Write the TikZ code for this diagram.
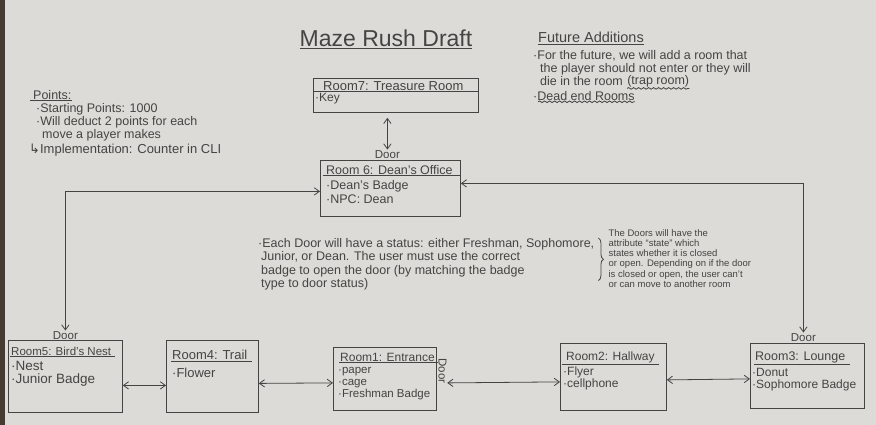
\documentclass[tikz,border=0pt]{standalone}
\usepackage{fontspec}
\setmainfont{Liberation Sans}
\newfontfamily\symfont{DejaVu Sans}
\usetikzlibrary{positioning,arrows.meta,decorations.pathmorphing,decorations.pathreplacing}

\definecolor{paper}{RGB}{221,219,215}
\definecolor{pencil}{RGB}{70,68,66}
\definecolor{desk}{RGB}{72,58,48}

\begin{document}
\begin{tikzpicture}[
  x=1pt, y=-1pt,
  font=\fontsize{11}{12}\selectfont,
  pen/.style={draw=pencil, line width=0.8pt},
  room/.style={pen, anchor=north west, inner sep=0pt},
  head/.style={anchor=north west, inner sep=1pt, text=pencil,
               font=\fontsize{12}{14}\selectfont},
  items/.style={anchor=north west, align=left, inner sep=1pt, text=pencil,
                font=\fontsize{12}{12.5}\selectfont},
  note/.style={anchor=north west, align=left, inner sep=0pt, text=pencil},
  door/.style={inner sep=0.5pt, text=pencil, font=\fontsize{11.5}{12}\selectfont},
  arr/.style={pen, {Straight Barb[length=1.8mm,width=2.6mm]}-{Straight Barb[length=1.8mm,width=2.6mm]}},
  wavy/.style={pen, decorate, decoration={snake, amplitude=0.8pt, segment length=5pt}}
]
% Paper sheet and the desk edge on the left.
\fill[paper] (0,0) rectangle (876,425);
\fill[desk] (0,0) rectangle (5,425);
\useasboundingbox (0,0) rectangle (876,425);

% Title.
\node[note, anchor=center, font=\fontsize{23}{26}\selectfont] (title) at (386,38) {Maze Rush Draft};
\draw[pen] ([yshift=-2pt]title.south west) -- ([yshift=-2pt]title.south east);

% Points notes, top left.
\node[note, font=\fontsize{12.5}{13}\selectfont] (ptsh) at (33,90) {Points:};
\draw[pen] ([shift={(-3pt,-1pt)}]ptsh.south west) -- ([yshift=-1pt]ptsh.south east);
\node[note, font=\fontsize{12.5}{10.5}\selectfont, below=4pt of ptsh.south west,
      anchor=north west, xshift=3pt] (ptsi)
  {·Starting Points: 1000\\·Will deduct 2 points for each\\\hspace*{6pt}move a player makes};
\node[note, font=\fontsize{13}{14}\selectfont, below=3pt of ptsi.south west,
      anchor=north west, xshift=-7pt] (impl)
  {{\symfont ↳}Implementation: Counter in CLI};

% Future additions, top right.
\node[note, font=\fontsize{14.5}{15}\selectfont] (futh) at (538,32) {Future Additions};
\draw[pen] ([yshift=-1pt]futh.south west) -- ([yshift=-1pt]futh.south east);
\node[note, font=\fontsize{12.5}{13.5}\selectfont, below=7pt of futh.south west,
      anchor=north west, xshift=-5pt] (fut1)
  {·For the future, we will add a room that\\\hspace*{7pt}the player should not enter or they will};
\node[note, font=\fontsize{12.5}{13}\selectfont, below=1pt of fut1.south west,
      anchor=north west, xshift=7pt] (fut3) {die in the room};
\node[note, font=\fontsize{12.5}{13}\selectfont, right=4pt of fut3] (trap) {(trap room)};
\draw[wavy] ([yshift=-1pt]trap.south west) -- ([yshift=-1pt]trap.south east);
\node[note, font=\fontsize{12.5}{13}\selectfont, below=5pt of fut3.south west,
      anchor=north west, xshift=-7pt] (dead) {·Dead end Rooms};
\draw[wavy] ([shift={(5pt,-1pt)}]dead.south west) -- ([yshift=-1pt]dead.south east);

% Room 7 and Room 6.
\node[room, minimum width=165pt, minimum height=34pt] (r7) at (313,78) {};
\node[head, font=\fontsize{13}{14}\selectfont] (r7h) at ([shift={(9pt,-2pt)}]r7.north west) {Room7: Treasure Room};
\draw[pen] (r7.west |- r7h.south) -- (r7.east |- r7h.south);
\node[items, below=1pt of r7h.south west, anchor=north west, xshift=-8pt] (r7i) {·Key};

\node[room, minimum width=140pt, minimum height=56pt] (r6) at (320,160) {};
\node[head, font=\fontsize{12.5}{14}\selectfont] (r6h) at ([shift={(5pt,-4pt)}]r6.north west) {Room 6: Dean's Office};
\draw[pen] ([xshift=-2pt]r6h.south west) -- (r6.east |- r6h.south);
\node[items, font=\fontsize{12.5}{14}\selectfont, below=4pt of r6h.south west, anchor=north west] (r6i)
  {·Dean's Badge\\·NPC: Dean};

% Bottom row of rooms.
\node[room, minimum width=114pt, minimum height=72pt] (r5) at (8,340) {};
\node[head, font=\fontsize{11.5}{14}\selectfont] (r5h) at ([shift={(2pt,-6pt)}]r5.north west) {Room5: Bird's Nest};
\draw[pen] (r5h.south west) -- ([xshift=3pt]r5h.south east);
\node[items, font=\fontsize{13.5}{13.5}\selectfont, below=3pt of r5h.south west, anchor=north west] (r5i) {·Nest\\·Junior Badge};

\node[room, minimum width=92pt, minimum height=72pt] (r4) at (166,340) {};
\node[head, font=\fontsize{13}{14}\selectfont] (r4h) at ([shift={(5pt,-9pt)}]r4.north west) {Room4: Trail};
\draw[pen] (r4h.south west) -- ([xshift=3pt]r4h.south east);
\node[items, font=\fontsize{13}{13}\selectfont, below=6pt of r4h.south west, anchor=north west] (r4i) {·Flower};

\node[room, minimum width=103pt, minimum height=63pt] (r1) at (333,347) {};
\node[head] (r1h) at ([shift={(6pt,-5pt)}]r1.north west) {Room1: Entrance};
\draw[pen] (r1h.south west) -- ([xshift=2pt]r1h.south east);
\node[items, font=\fontsize{11.5}{12.3}\selectfont, below=3pt of r1h.south west, anchor=north west, xshift=-2pt] (r1i)
  {·paper\\·cage\\·Freshman Badge};
\node[door, rotate=-90, anchor=south] (d1) at ([shift={(1pt,8pt)}]r1.east) {Door};

\node[room, minimum width=106pt, minimum height=67pt] (r2) at (560,343) {};
\node[head] (r2h) at ([shift={(5pt,-8pt)}]r2.north west) {Room2: Hallway};
\draw[pen] ([xshift=-3pt]r2h.south west) -- ([xshift=3pt]r2h.south east);
\node[items, below=1pt of r2h.south west, anchor=north west, xshift=-3pt] (r2i) {·Flyer\\·cellphone};

\node[room, minimum width=114pt, minimum height=65pt] (r3) at (750,343) {};
\node[head, font=\fontsize{12.5}{14}\selectfont] (r3h) at ([shift={(4pt,-8pt)}]r3.north west) {Room3: Lounge};
\draw[pen] (r3h.south west) -- ([xshift=3pt]r3h.south east);
\node[items, below=2pt of r3h.south west, anchor=north west, xshift=-3pt] (r3i) {·Donut\\·Sophomore Badge};

% Door labels above the rooms they lead into.
\node[door, above=1pt of r6.north, xshift=-3pt] (d6) {Door};
\node[door, above=0pt of r5.north] (d5) {Door};
\node[door, above=1pt of r3.north, xshift=-4pt] (d3) {Door};

% Notes on the doors.
\node[note, font=\fontsize{12.5}{13.5}\selectfont] (mid) at (258,238)
  {·Each Door will have a status: either Freshman, Sophomore,\\
   \hspace*{3pt}Junior, or Dean. The user must use the correct\\
   \hspace*{3pt}badge to open the door (by matching the badge\\
   \hspace*{3pt}type to door status)};
\draw[pen, decorate, decoration={brace, amplitude=5pt}]
  ([xshift=4pt]mid.north east) -- ([shift={(4pt,10pt)}]mid.south east);
\node[note, font=\fontsize{9.5}{10.3}\selectfont, right=14pt of mid.north east, anchor=north west, yshift=9pt] (state)
  {The Doors will have the\\attribute ``state'' which\\states whether it is closed\\or open. Depending on if the door\\is closed or open, the user can't\\or can move to another room};

% Connections between rooms.
\draw[arr] ([yshift=-5pt]r7.south -| d6.north) -- (d6.north);
\draw[arr] (d5.north) |- ([yshift=-3pt]r6.west);
\draw[arr] ([yshift=5pt]r6.east) -| (d3.north);
\draw[arr] ([yshift=-9pt]r5.east) -- ([yshift=-9pt]r4.west);
\draw[arr] ([yshift=-7pt]r4.east) -- ([yshift=-4pt]r1.west);
\draw[arr] ([yshift=-12pt]d1.north) -- ([yshift=-5pt]r2.west);
\draw[arr] ([yshift=-3pt]r2.east) -- ([yshift=-3pt]r3.west);
\end{tikzpicture}
\end{document}
